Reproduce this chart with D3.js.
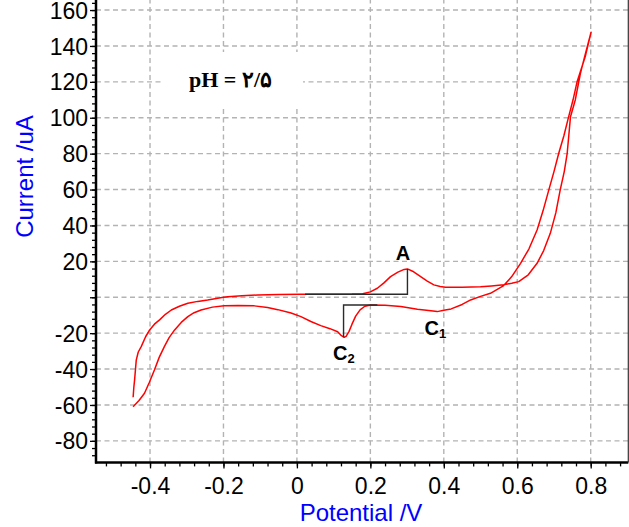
<!DOCTYPE html>
<html>
<head>
<meta charset="utf-8">
<script src="https://cdn.jsdelivr.net/npm/d3@7"></script>
<style>
  html, body { margin: 0; padding: 0; background: #fff; }
  svg { display: block; }
</style>
</head>
<body>
<svg id="chart" width="629" height="527"></svg>
<script>
// Cyclic voltammogram: forward scan (to +0.8 V) then reverse scan (back to -0.45 V)
const forwardPotential = [-0.446, -0.444, -0.442, -0.4375, -0.432, -0.424, -0.412, -0.401, -0.388, -0.374,
  -0.358, -0.342, -0.32, -0.297, -0.27, -0.243, -0.2, -0.188, -0.15, -0.107, -0.05, 0.011, 0.08, 0.15,
  0.179, 0.2, 0.219, 0.237, 0.255, 0.275, 0.292, 0.301, 0.315, 0.337, 0.355, 0.373, 0.39, 0.405, 0.45,
  0.5, 0.53, 0.563, 0.585, 0.604, 0.63, 0.654, 0.672, 0.69, 0.705, 0.717, 0.728, 0.736, 0.745, 0.758,
  0.772, 0.786, 0.801];
const forwardCurrent = [-55.7, -50, -46, -35, -30.5, -27.5, -22, -18.2, -15, -12.6,
  -9.5, -7.1, -5, -3.3, -2.3, -1.5, 0, 0.3, 0.8, 1.3, 1.5, 1.7, 1.7, 1.8,
  2.0, 3.0, 5.0, 8.0, 11.5, 14.0, 15.5, 15.8, 14.5, 11.5, 9.0, 6.9, 6.0, 5.6, 5.6,
  5.8, 6.3, 7.0, 7.8, 8.7, 12.5, 18.9, 26, 35.6, 47, 59.8, 70, 80.2, 100.6, 109.9,
  124.8, 136, 147.6];

const reversePotential = [0.785, 0.763, 0.752, 0.740, 0.727, 0.713, 0.70, 0.686, 0.67, 0.654, 0.632,
  0.609, 0.585, 0.563, 0.527, 0.50, 0.473, 0.45, 0.42, 0.400, 0.382, 0.365, 0.328, 0.283, 0.24, 0.201,
  0.185, 0.172, 0.160, 0.150, 0.142, 0.134, 0.129, 0.120, 0.111, 0.09, 0.065, 0.038, 0.011, -0.016,
  -0.052, -0.08, -0.116, -0.16, -0.198, -0.23, -0.261, -0.28, -0.297, -0.315, -0.333, -0.348, -0.361,
  -0.375, -0.388, -0.402, -0.415, -0.43, -0.446];
const reverseCurrent = [134, 120.1, 110, 100.6, 90, 80.2, 70, 59.8, 48, 37.5, 27,
  18.9, 11.5, 6.5, 2.2, 0.5, -1.5, -4, -6.5, -7.3, -8.0, -7.5, -6.7, -5.2, -4.4, -4.3,
  -5.0, -7.0, -10.5, -15, -19, -21.8, -22.3, -21.2, -19.2, -17.5, -15.8, -13.5, -10.8, -8.8,
  -6.9, -5.7, -4.8, -4.6, -4.7, -5.5, -7.1, -8.6, -10.8, -14, -18.2, -22.5, -27.5,
  -33.5, -40.5, -47.5, -53.5, -57.5, -61];

// Peak markers: baseline segment plus vertical drop to the peak
const peakNames = ["A", "C2"];
const peakPotential = [0.301, 0.127];
const peakCurrent = [15.8, -22.3];
const peakBaseline = [1.7, -4.3];
const peakBaseStart = [0.022, 0.219];

// Axis ticks
const xMajorTicks = [-0.4, -0.2, 0, 0.2, 0.4, 0.6, 0.8];
const xTickLabels = ["-0.4", "-0.2", "0", "0.2", "0.4", "0.6", "0.8"];
const yMajorTicks = [-80, -60, -40, -20, 0, 20, 40, 60, 80, 100, 120, 140, 160];
const yTickLabels = ["-80", "-60", "-40", "-20", "", "20", "40", "60", "80", "100", "120", "140", "160"];
const xMinorTicks = d3.range(-52, 91, 4).map(d => d / 100);
const yMinorTicks = d3.range(-88, 165, 4);

const svg = d3.select("#chart");
const plotLeft = 96, plotRight = 628.3, plotBottom = 462.4, plotTop = 0;

const x = d3.scaleLinear().domain([-0.5471, 0.9024]).range([plotLeft, plotRight]);
const y = d3.scaleLinear().domain([-92, 165.6]).range([plotBottom, plotTop]);

const font = "'Liberation Sans', Arial, sans-serif";

// Grid
const grid = svg.append("g").attr("stroke", "#b3b3b3").attr("stroke-width", 1.4)
  .attr("stroke-dasharray", "5,3.5").attr("fill", "none");
grid.selectAll("line.v").data(xMajorTicks).join("line").attr("class", "v")
  .attr("x1", d => x(d)).attr("x2", d => x(d)).attr("y1", plotBottom).attr("y2", plotTop);
grid.selectAll("line.h").data(yMajorTicks).join("line").attr("class", "h")
  .attr("x1", plotLeft).attr("x2", plotRight).attr("y1", d => y(d)).attr("y2", d => y(d));

// White box behind the pH note
svg.append("rect").attr("x", 163).attr("y", 52).attr("width", 140).attr("height", 54).attr("fill", "#fff");
svg.append("text")
  .attr("x", 189).attr("y", 87)
  .attr("font-family", "'Liberation Serif', 'Times New Roman', serif")
  .attr("font-weight", "bold").attr("font-size", 22)
  .attr("direction", "ltr")
  .text("pH = ۲/۵");

// Curve
const line = d3.line().x(d => x(d[0])).y(d => y(d[1]));
const scan = forwardPotential.map((p, i) => [p, forwardCurrent[i]])
  .concat(reversePotential.map((p, i) => [p, reverseCurrent[i]]));
svg.append("path").datum(scan)
  .attr("d", line)
  .attr("fill", "none").attr("stroke", "#ff0000").attr("stroke-width", 1.5)
  .attr("stroke-linejoin", "round");

// Peak baselines
peakNames.forEach((name, i) => {
  const pts = [[peakBaseStart[i], peakBaseline[i]], [peakPotential[i], peakBaseline[i]], [peakPotential[i], peakCurrent[i]]];
  svg.append("path").attr("d", line(pts)).attr("fill", "none")
    .attr("stroke", "#2b2b2b").attr("stroke-width", 1.4);
});

// Peak labels
const lab = svg.append("g").attr("font-family", font).attr("font-weight", "bold").attr("fill", "#000");
lab.append("text").attr("x", 403).attr("y", 260).attr("text-anchor", "middle").attr("font-size", 20).text("A");
const c1 = lab.append("text").attr("x", 424.5).attr("y", 335).attr("font-size", 20);
c1.append("tspan").text("C");
c1.append("tspan").attr("font-size", 13).attr("dy", 3).text("1");
const c2 = lab.append("text").attr("x", 333).attr("y", 360).attr("font-size", 20);
c2.append("tspan").text("C");
c2.append("tspan").attr("font-size", 13).attr("dy", 3).text("2");

// Axes
const axisG = svg.append("g");
// minor ticks
axisG.append("g").attr("transform", `translate(0,${plotBottom})`)
  .call(d3.axisBottom(x).tickValues(xMinorTicks).tickSize(4).tickFormat(""))
  .call(g => g.select(".domain").remove());
axisG.append("g").attr("transform", `translate(${plotLeft},0)`)
  .call(d3.axisLeft(y).tickValues(yMinorTicks).tickSize(4).tickFormat(""))
  .call(g => g.select(".domain").remove());
// major ticks with labels
const xAxis = axisG.append("g").attr("transform", `translate(0,${plotBottom})`)
  .call(d3.axisBottom(x).tickValues(xMajorTicks).tickSize(6).tickPadding(9)
    .tickFormat((d, i) => xTickLabels[i]))
  .call(g => g.select(".domain").remove());
const yAxis = axisG.append("g").attr("transform", `translate(${plotLeft},0)`)
  .call(d3.axisLeft(y).tickValues(yMajorTicks).tickSize(6).tickPadding(2)
    .tickFormat((d, i) => yTickLabels[i]))
  .call(g => g.select(".domain").remove());
axisG.selectAll(".tick line").attr("stroke", "#000").attr("stroke-width", 1.3);
axisG.selectAll(".tick text").attr("font-family", font).attr("font-size", 23).attr("fill", "#000");
xAxis.selectAll(".tick text").attr("dy", "0.71em");
yAxis.selectAll(".tick text").attr("dy", "0.35em");

// Frame lines
svg.append("line").attr("x1", plotLeft).attr("x2", plotLeft).attr("y1", plotTop).attr("y2", plotBottom + 1)
  .attr("stroke", "#000").attr("stroke-width", 2.5);
svg.append("line").attr("x1", plotLeft - 1).attr("x2", plotRight).attr("y1", plotBottom).attr("y2", plotBottom)
  .attr("stroke", "#000").attr("stroke-width", 2.5);
svg.append("line").attr("x1", plotRight).attr("x2", plotRight).attr("y1", plotTop).attr("y2", plotBottom)
  .attr("stroke", "#333").attr("stroke-width", 1.2);

// Axis titles
svg.append("text").attr("transform", "translate(33,176.5) rotate(-90)")
  .attr("text-anchor", "middle").attr("font-family", font).attr("font-size", 24)
  .attr("fill", "#0000ff").text("Current /uA");
svg.append("text").attr("x", 361).attr("y", 521)
  .attr("text-anchor", "middle").attr("font-family", font).attr("font-size", 24)
  .attr("fill", "#0000ff").text("Potential /V");
</script>
</body>
</html>
